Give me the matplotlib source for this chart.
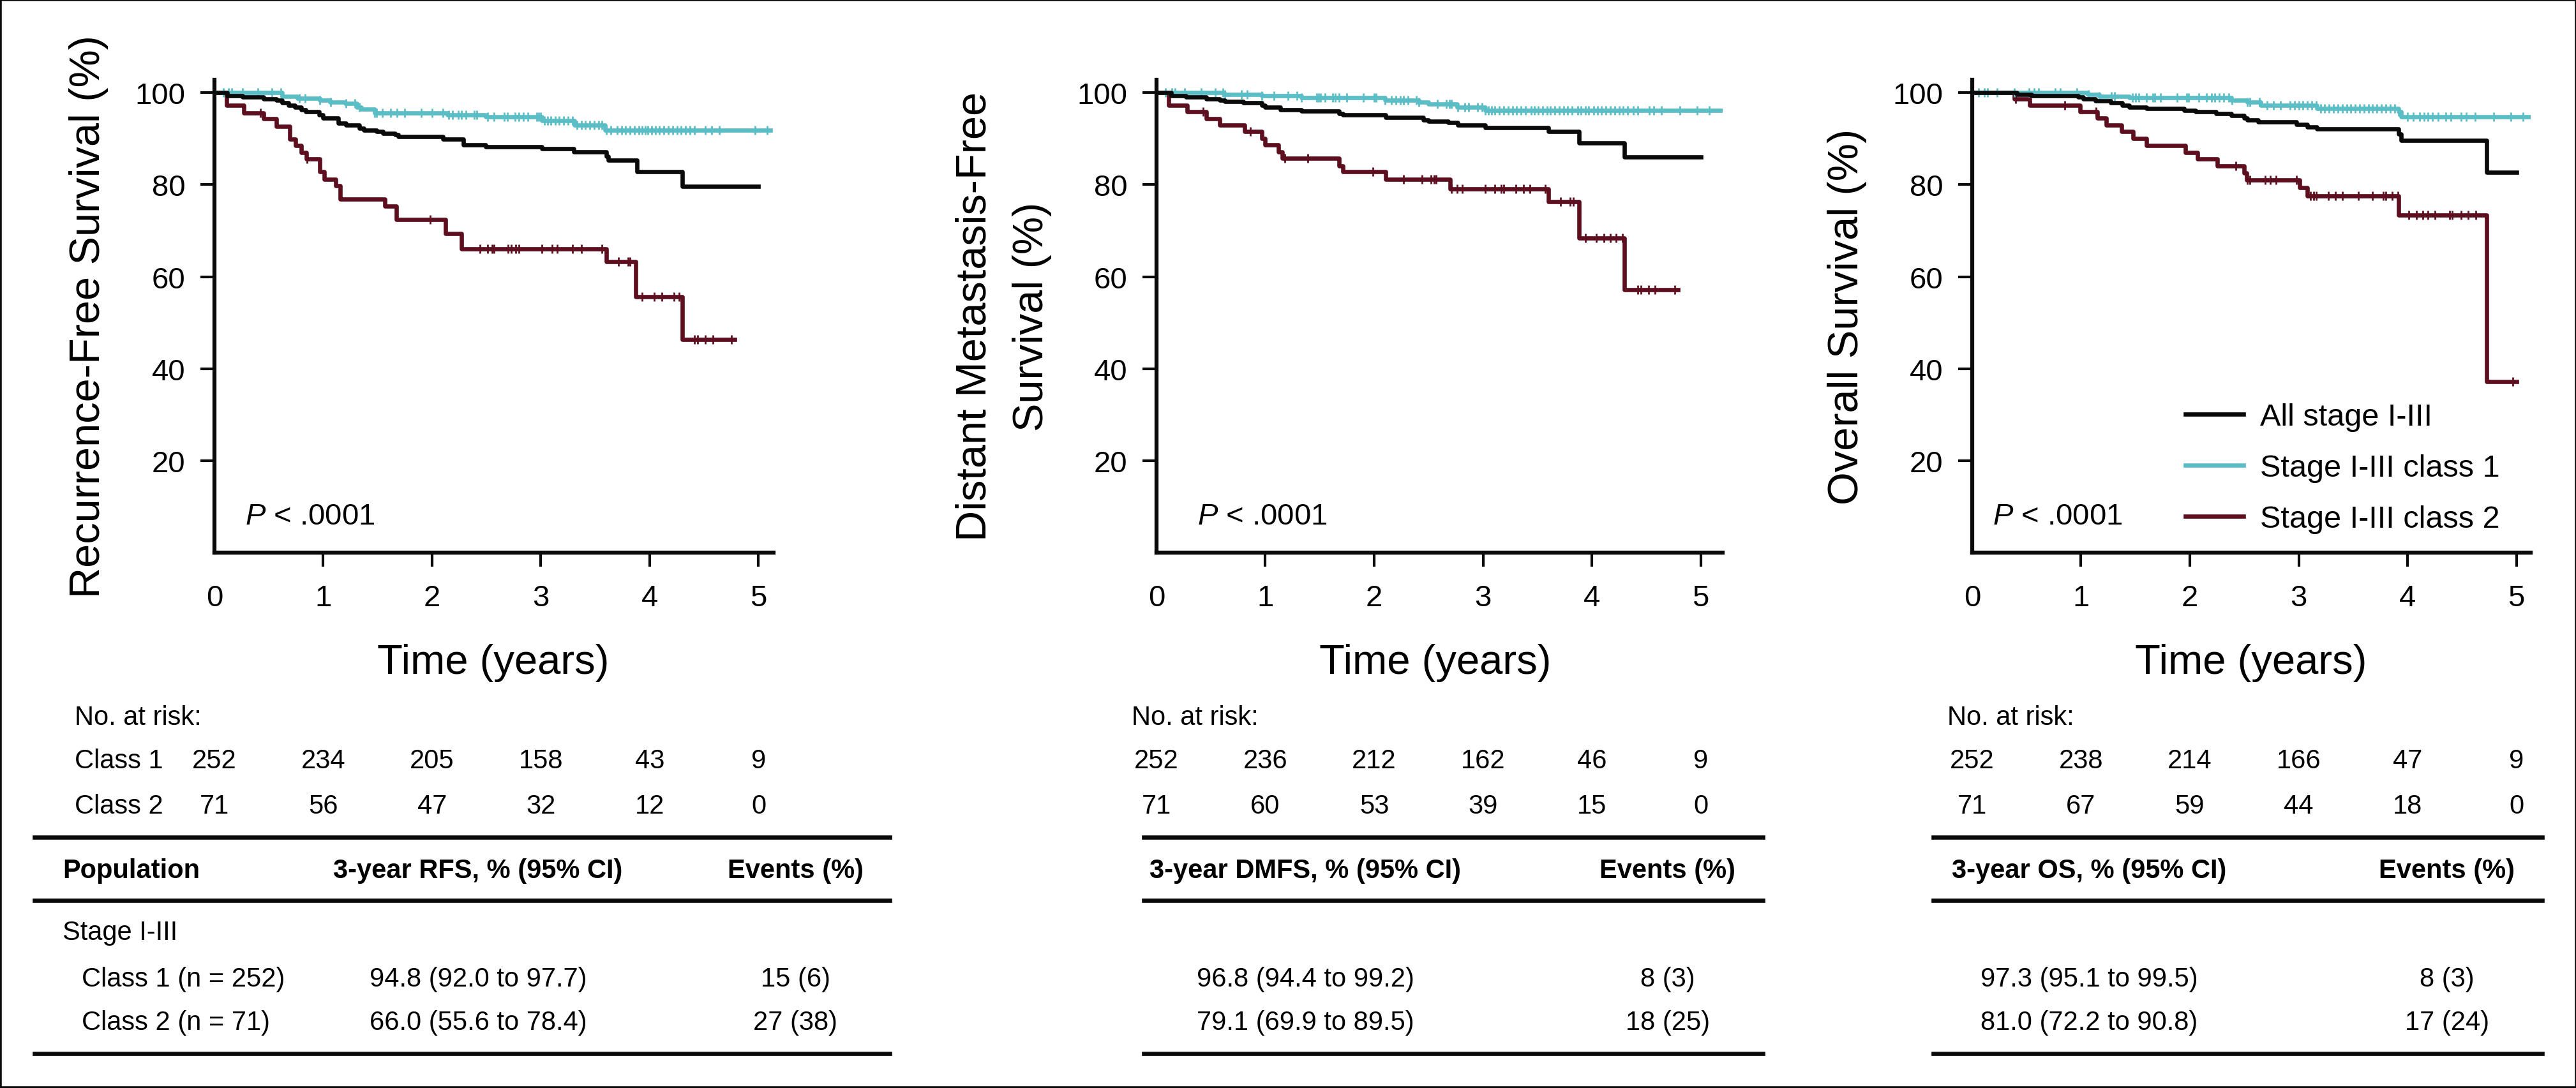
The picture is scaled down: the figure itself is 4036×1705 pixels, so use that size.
import numpy as np
import matplotlib
matplotlib.use("Agg")
import matplotlib.pyplot as plt
from matplotlib.lines import Line2D
from matplotlib.patches import Rectangle
from matplotlib.transforms import blended_transform_factory

plt.rcParams['font.family'] = ['Liberation Sans', 'DejaVu Sans']
plt.rcParams['mathtext.fontset'] = 'custom'
plt.rcParams['mathtext.rm'] = 'Liberation Sans'
plt.rcParams['mathtext.it'] = 'Liberation Sans:italic'

# ---- data ----
# Recurrence-free survival
rfs_all_t = [0, 0.12, 0.26, 0.45, 0.57, 0.62, 0.68, 0.74, 0.80, 0.84, 0.96, 1.00, 1.14, 1.21, 1.33, 1.37,
             1.49, 1.55, 1.66, 1.69, 2.10, 2.29, 2.49, 3.01, 3.30, 3.60, 3.62, 3.88, 4.30, 5.00]
rfs_all_s = [100, 99.3, 99.1, 98.6, 98.3, 97.8, 97.2, 96.8, 96.3, 95.9, 95.2, 94.5, 93.3, 92.9, 92.2, 91.8,
             91.5, 91.2, 90.8, 90.4, 89.9, 88.7, 88.3, 87.8, 87.1, 86.2, 85.3, 82.8, 79.7, 79.7]
rfs_c1_t = [0, 0.62, 0.76, 0.97, 1.06, 1.20, 1.31, 1.35, 1.47, 2.14, 2.49, 3.01, 3.31, 3.59, 5.11]
rfs_c1_s = [100, 99.2, 98.8, 98.4, 97.9, 97.6, 96.9, 96.4, 95.6, 95.2, 94.7, 93.9, 92.9, 91.8, 91.8]
rfs_c1_cens = [0.08, 0.13, 0.16, 0.26, 0.40, 0.53, 0.61, 0.78, 0.83, 0.97, 1.07, 1.21, 1.29, 1.33, 1.47,
               1.49, 1.54, 1.62, 1.68, 1.75, 1.90, 2.00, 2.10, 2.15, 2.19, 2.24, 2.27, 2.31, 2.39, 2.41,
               2.51, 2.57, 2.66, 2.69, 2.76, 2.80, 2.84, 2.88, 2.96, 2.98, 3.00, 3.03, 3.06, 3.09, 3.13,
               3.17, 3.21, 3.25, 3.29, 3.33, 3.37, 3.41, 3.45, 3.49, 3.53, 3.56, 3.60, 3.64, 3.70, 3.74,
               3.78, 3.82, 3.86, 3.90, 3.93, 3.96, 3.98, 4.02, 4.05, 4.09, 4.13, 4.17, 4.21, 4.25, 4.29,
               4.33, 4.37, 4.41, 4.51, 4.57, 4.64, 4.97, 5.08]
rfs_c2_t = [0, 0.114, 0.27, 0.45, 0.57, 0.695, 0.744, 0.80, 0.846, 0.97, 1.01, 1.116, 1.155, 1.567, 1.674,
            2.125, 2.27, 3.60, 3.87, 4.30, 4.78]
rfs_c2_s = [100, 97.2, 95.6, 94.3, 92.7, 89.9, 88.5, 87.0, 85.6, 82.8, 81.2, 79.8, 76.8, 75.4, 72.4,
            69.4, 66.0, 63.3, 55.6, 46.4, 46.4]
rfs_c2_cens = [0.42, 0.85, 1.98, 2.44, 2.51, 2.55, 2.57, 2.70, 2.73, 2.77, 2.80, 3.01, 3.10, 3.15, 3.29,
               3.37, 3.56, 3.71, 3.80, 3.82, 3.93, 4.04, 4.11, 4.22, 4.27, 4.41, 4.44, 4.51, 4.58, 4.75]

# Distant metastasis-free survival
dmfs_all_t = [0, 0.137, 0.27, 0.46, 0.58, 0.63, 0.80, 0.97, 1.00, 1.136, 1.33, 1.68, 1.71, 2.105, 2.45,
              2.50, 2.68, 2.77, 3.02, 3.60, 3.88, 4.30, 5.00]
dmfs_all_s = [100, 99.4, 99.1, 98.7, 98.4, 98.1, 97.8, 97.2, 96.8, 96.3, 96.0, 95.4, 95.2, 94.6, 94.1,
              93.8, 93.5, 92.9, 92.4, 91.5, 89.1, 86.0, 86.0]
dmfs_c1_t = [0, 0.62, 0.97, 1.33, 2.10, 2.41, 2.50, 2.76, 3.02, 5.20]
dmfs_c1_s = [100, 99.6, 99.3, 98.9, 98.4, 97.9, 97.5, 96.8, 96.1, 96.1]
dmfs_c1_cens = [0.08, 0.14, 0.17, 0.26, 0.41, 0.54, 0.61, 0.63, 0.78, 0.83, 0.97, 1.08, 1.21, 1.29, 1.33,
                1.47, 1.49, 1.51, 1.55, 1.62, 1.64, 1.68, 1.75, 1.90, 2.00, 2.02, 2.10, 2.16, 2.20, 2.24,
                2.27, 2.31, 2.39, 2.41, 2.58, 2.66, 2.69, 2.71, 2.77, 2.83, 2.87, 2.95, 2.99, 3.02, 3.05,
                3.08, 3.11, 3.15, 3.19, 3.23, 3.27, 3.31, 3.35, 3.39, 3.44, 3.47, 3.51, 3.55, 3.59, 3.62,
                3.66, 3.70, 3.74, 3.78, 3.82, 3.87, 3.90, 3.94, 3.97, 4.02, 4.05, 4.09, 4.13, 4.17, 4.21,
                4.25, 4.29, 4.33, 4.38, 4.42, 4.53, 4.57, 4.64, 4.81, 4.97, 5.08]
dmfs_c2_t = [0, 0.114, 0.28, 0.46, 0.58, 0.81, 0.97, 1.00, 1.12, 1.155, 1.68, 1.71, 2.105, 2.70, 3.60,
             3.88, 4.30, 4.79]
dmfs_c2_s = [100, 97.2, 95.8, 94.4, 92.9, 91.5, 90.0, 88.6, 87.1, 85.7, 84.1, 82.8, 81.1, 79.1, 76.3,
             68.4, 57.2, 57.2]
dmfs_c2_cens = [0.43, 0.86, 1.18, 1.39, 1.99, 2.27, 2.44, 2.52, 2.55, 2.57, 2.71, 2.76, 2.81, 3.02, 3.11,
                3.17, 3.19, 3.30, 3.37, 3.43, 3.57, 3.71, 3.80, 3.83, 3.94, 4.04, 4.11, 4.17, 4.22, 4.28,
                4.42, 4.45, 4.52, 4.58, 4.76]

# Overall survival
os_all_t = [0, 0.41, 0.546, 0.975, 1.02, 1.13, 1.27, 1.38, 1.44, 1.60, 1.95, 2.05, 2.24, 2.38, 2.50,
            2.53, 2.63, 2.98, 3.08, 3.17, 3.92, 3.94, 4.73, 5.00]
os_all_s = [100, 99.6, 99.3, 99.1, 98.7, 98.2, 97.8, 97.3, 96.9, 96.5, 96.1, 95.8, 95.4, 95.0, 94.5,
            94.0, 93.7, 93.1, 92.6, 92.1, 91.0, 89.6, 82.7, 82.7]
os_c1_t = [0, 1.06, 1.17, 1.44, 2.38, 2.53, 2.65, 3.17, 3.92, 3.94, 5.13]
os_c1_s = [100, 99.6, 99.2, 98.9, 98.4, 97.9, 97.3, 96.6, 95.9, 94.7, 94.7]
os_c1_cens = [0.06, 0.11, 0.14, 0.23, 0.39, 0.52, 0.57, 0.61, 0.76, 0.81, 0.96, 1.07, 1.17, 1.28, 1.31,
              1.47, 1.50, 1.53, 1.60, 1.66, 1.68, 1.73, 1.88, 1.97, 1.99, 2.08, 2.15, 2.20, 2.23, 2.27,
              2.31, 2.36, 2.39, 2.53, 2.55, 2.64, 2.71, 2.77, 2.83, 2.92, 2.96, 3.00, 3.04, 3.08, 3.12,
              3.16, 3.20, 3.24, 3.28, 3.32, 3.36, 3.40, 3.44, 3.48, 3.52, 3.56, 3.60, 3.64, 3.68, 3.72,
              3.76, 3.80, 3.84, 3.88, 3.92, 4.00, 4.05, 4.11, 4.15, 4.19, 4.23, 4.28, 4.35, 4.40, 4.49,
              4.54, 4.62, 4.79, 4.95, 5.06]
os_c2_t = [0, 0.39, 0.526, 0.994, 1.15, 1.23, 1.37, 1.48, 1.60, 1.96, 2.07, 2.25, 2.50, 2.52, 3.01,
           3.08, 3.92, 4.73, 5.00]
os_c2_s = [100, 98.7, 97.2, 95.8, 94.5, 93.0, 91.5, 90.0, 88.5, 87.0, 85.6, 84.1, 82.5, 81.0, 79.3,
           77.5, 73.4, 37.2, 37.2]
os_c2_cens = [0.40, 0.85, 1.14, 2.42, 2.53, 2.55, 2.69, 2.74, 2.79, 2.98, 3.11, 3.14, 3.16, 3.27, 3.34,
              3.40, 3.55, 3.68, 3.78, 3.80, 3.86, 3.91, 4.01, 4.08, 4.14, 4.19, 4.25, 4.39, 4.41, 4.49,
              4.56, 4.63, 4.97]

ylabels = [["Recurrence-Free Survival (%)"], ["Distant Metastasis-Free", "Survival (%)"], ["Overall Survival (%)"]]
series_names = ["All stage I-III", "Stage I-III class 1", "Stage I-III class 2"]
time_ticks = [0, 1, 2, 3, 4, 5]
surv_ticks = [20, 40, 60, 80, 100]

risk_rfs_c1 = [252, 234, 205, 158, 43, 9]
risk_rfs_c2 = [71, 56, 47, 32, 12, 0]
risk_dmfs_c1 = [252, 236, 212, 162, 46, 9]
risk_dmfs_c2 = [71, 60, 53, 39, 15, 0]
risk_os_c1 = [252, 238, 214, 166, 47, 9]
risk_os_c2 = [71, 67, 59, 44, 18, 0]

col_headers = ["3-year RFS, % (95% CI)", "3-year DMFS, % (95% CI)", "3-year OS, % (95% CI)"]
row_labels = ["Class 1 (n = 252)", "Class 2 (n = 71)"]
est_rfs = ["94.8 (92.0 to 97.7)", "66.0 (55.6 to 78.4)"]
est_dmfs = ["96.8 (94.4 to 99.2)", "79.1 (69.9 to 89.5)"]
est_os = ["97.3 (95.1 to 99.5)", "81.0 (72.2 to 90.8)"]
events_rfs = ["15 (6)", "27 (38)"]
events_dmfs = ["8 (3)", "18 (25)"]
events_os = ["8 (3)", "17 (24)"]

BLACK = "#0a0a0a"
CYAN = "#5bbec6"
MAROON = "#5e0f1f"

W, H = 4037, 1706
fig = plt.figure(figsize=(W / 100, H / 100), dpi=100)


def fx(px):
    return px / W


def fy(py):
    return 1 - py / H


def surv_at(t, s, tc):
    idx = np.searchsorted(np.asarray(t), np.asarray(tc), side='right') - 1
    return np.asarray(s)[idx]


panels = [
    dict(left=336, xmax=5.14, all=(rfs_all_t, rfs_all_s), c1=(rfs_c1_t, rfs_c1_s, rfs_c1_cens),
         c2=(rfs_c2_t, rfs_c2_s, rfs_c2_cens), px=0.28, ylab_x=[139],
         risk=(risk_rfs_c1, risk_rfs_c2), est=est_rfs, ev=events_rfs,
         line=(54, 1394), hdr_x=749, ev_x=1246),
    dict(left=1812, xmax=5.2, all=(dmfs_all_t, dmfs_all_s), c1=(dmfs_c1_t, dmfs_c1_s, dmfs_c1_cens),
         c2=(dmfs_c2_t, dmfs_c2_s, dmfs_c2_cens), px=0.376, ylab_x=[1528, 1617],
         risk=(risk_dmfs_c1, risk_dmfs_c2), est=est_dmfs, ev=events_dmfs,
         line=(1792, 2762), hdr_x=2045, ev_x=2613),
    dict(left=3090, xmax=5.13, all=(os_all_t, os_all_s), c1=(os_c1_t, os_c1_s, os_c1_cens),
         c2=(os_c2_t, os_c2_s, os_c2_cens), px=0.187, ylab_x=[2894],
         risk=(risk_os_c1, risk_os_c2), est=est_os, ev=events_os,
         line=(3029, 3983), hdr_x=3273, ev_x=3834),
]

PX_PER_YEAR = 170.5
AX_TOP, AX_BOT = 126, 867
TABLE_FS = 30
LW = 4.8

for i, p in enumerate(panels):
    width = p['xmax'] * PX_PER_YEAR
    ax = fig.add_axes([fx(p['left']), fy(AX_BOT), width / W, (AX_BOT - AX_TOP) / H])
    ax.set_xlim(0, p['xmax'])
    ax.set_ylim(0, 102.8)

    t2, s2, cens2 = p['c2']
    t1, s1, cens1 = p['c1']
    ta, sa = p['all']
    ax.step(t2, s2, where='post', color=MAROON, lw=LW, zorder=2, label=series_names[2])
    ax.plot(cens2, surv_at(t2, s2, cens2), ls='none', marker='|', ms=9.5, mew=2, color=MAROON, zorder=2)
    ax.step(t1, s1, where='post', color=CYAN, lw=LW, zorder=3, label=series_names[1])
    ax.plot(cens1, surv_at(t1, s1, cens1), ls='none', marker='|', ms=9.5, mew=2, color=CYAN, zorder=3)
    ax.step(ta, sa, where='post', color=BLACK, lw=LW, zorder=4, label=series_names[0])

    for side in ['top', 'right']:
        ax.spines[side].set_visible(False)
    for side in ['left', 'bottom']:
        ax.spines[side].set_linewidth(4.5)
        ax.spines[side].set_color(BLACK)
    ax.set_xticks(time_ticks)
    ax.set_yticks(surv_ticks)
    ax.tick_params(axis='both', length=16, width=3, color=BLACK, labelsize=34)
    ax.tick_params(axis='x', pad=19)
    ax.tick_params(axis='y', pad=17)
    ax.xaxis.get_major_ticks()[0].tick1line.set_visible(False)

    ax.text(p['px'], 6.2, r'$\mathit{P}$ < .0001', fontsize=34, va='baseline', ha='left')

    if i == 2:
        h, l = ax.get_legend_handles_labels()
        ax.legend(h[::-1], l[::-1], loc='lower left', bbox_to_anchor=(1.96 / p['xmax'], 0.041),
                  frameon=False, fontsize=35, handlelength=1.87, handletextpad=0.53,
                  labelspacing=0.72, borderpad=0, borderaxespad=0)

    # axis titles
    for lab, xc in zip(ylabels[i], p['ylab_x']):
        fig.text(fx(xc), fy(496), lab, rotation=90, ha='center', va='center', fontsize=48)
    fig.text(fx(p['left'] + 437), fy(1056), "Time (years)", ha='center', va='baseline', fontsize=47)

    # number at risk
    tr = blended_transform_factory(ax.transData, fig.transFigure)
    fig.text(fx(p['left'] - 219 if i == 0 else p['left'] - 39), fy(1136), "No. at risk:", fontsize=TABLE_FS,
             va='baseline', ha='left')
    for row, yb in zip(p['risk'], [1204, 1275]):
        for tk, n in zip(time_ticks, row):
            ax.text(tk, fy(yb), str(n), transform=tr, ha='center', va='baseline', fontsize=TABLE_FS)

    # summary table
    x0, x1 = p['line']
    for yl in [1313, 1412, 1652]:
        fig.add_artist(Line2D([fx(x0), fx(x1)], [fy(yl), fy(yl)], color=BLACK, lw=4.8))
    fig.text(fx(p['hdr_x']), fy(1376), col_headers[i], ha='center', va='baseline',
             fontsize=TABLE_FS, fontweight='bold')
    fig.text(fx(p['ev_x']), fy(1376), "Events (%)", ha='center', va='baseline',
             fontsize=TABLE_FS, fontweight='bold')
    for k, yb in enumerate([1546, 1614]):
        fig.text(fx(p['hdr_x']), fy(yb), p['est'][k], ha='center', va='baseline', fontsize=TABLE_FS)
        fig.text(fx(p['ev_x']), fy(yb), p['ev'][k], ha='center', va='baseline', fontsize=TABLE_FS)

# row labels of the first panel
for lab, yb in zip(["Class 1", "Class 2"], [1204, 1275]):
    fig.text(fx(117), fy(yb), lab, fontsize=TABLE_FS, va='baseline', ha='left')
fig.text(fx(98), fy(1376), "Population", fontsize=TABLE_FS, fontweight='bold', va='baseline', ha='left')
fig.text(fx(98), fy(1473), "Stage I-III", fontsize=TABLE_FS, va='baseline', ha='left')
for lab, yb in zip(row_labels, [1546, 1614]):
    fig.text(fx(128), fy(yb), lab, fontsize=TABLE_FS, va='baseline', ha='left')

fig.add_artist(Rectangle((0, 0), 1, 1, transform=fig.transFigure, fill=False, edgecolor=BLACK, lw=4))

fig.savefig("out.png", dpi=100, facecolor='white')
